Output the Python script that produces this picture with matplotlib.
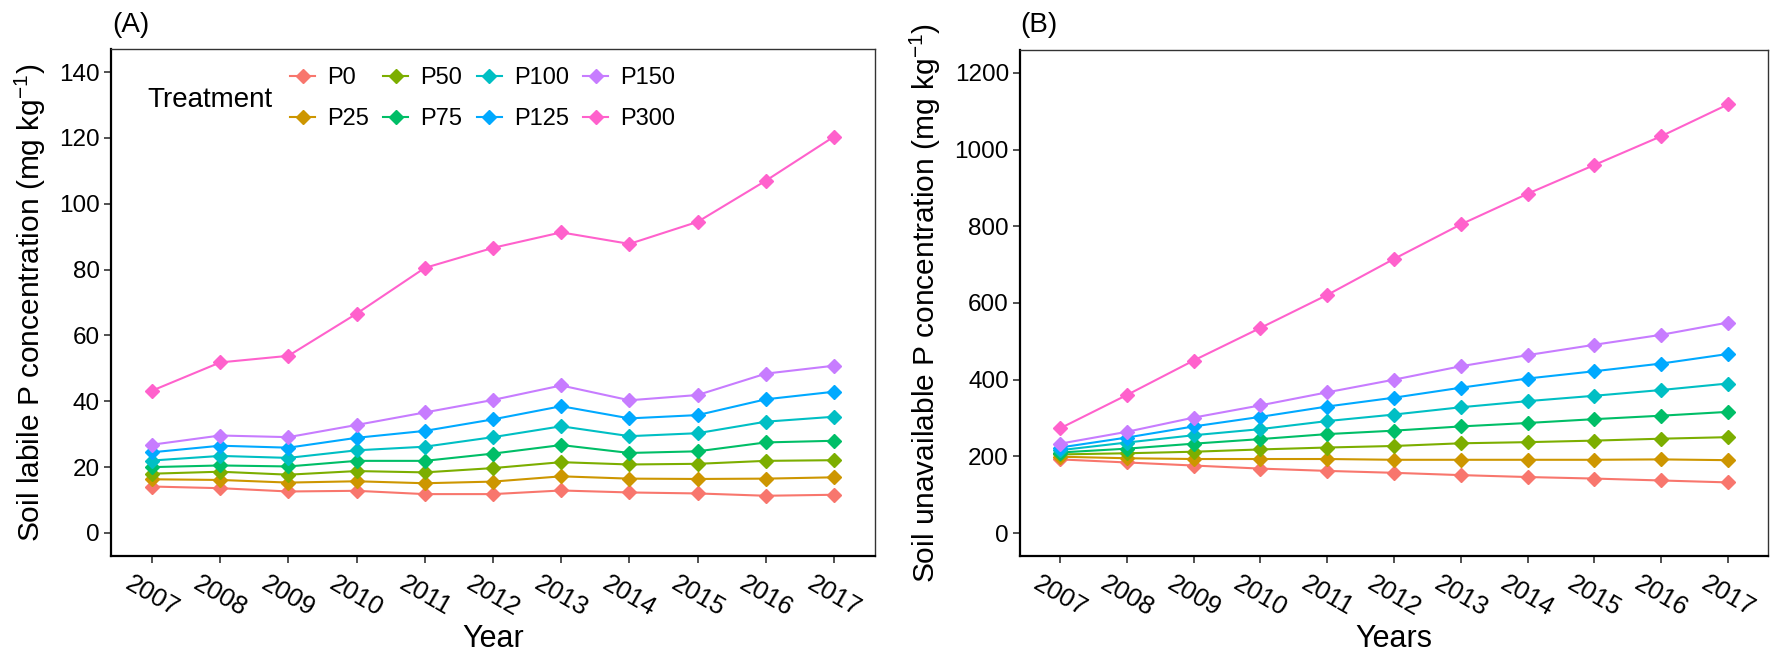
import matplotlib
matplotlib.use("Agg")
import matplotlib.pyplot as plt

years = [2007, 2008, 2009, 2010, 2011, 2012, 2013, 2014, 2015, 2016, 2017]
treatments = ["P0", "P25", "P50", "P75", "P100", "P125", "P150", "P300"]
colors = ["#F8766D", "#CD9600", "#7CAE00", "#00BE67", "#00BFC4", "#00A9FF", "#C77CFF", "#FF61CC"]

# Panel A: soil labile P (mg/kg)
labile_P0 = [14.1, 13.6, 12.6, 12.8, 11.8, 11.8, 12.9, 12.3, 12.0, 11.3, 11.6]
labile_P25 = [16.3, 16.1, 15.3, 15.7, 15.1, 15.6, 17.2, 16.5, 16.4, 16.5, 16.9]
labile_P50 = [18.0, 18.6, 17.7, 18.8, 18.4, 19.7, 21.5, 20.8, 21.0, 21.9, 22.1]
labile_P75 = [20.0, 20.5, 20.2, 21.9, 21.9, 24.1, 26.7, 24.3, 24.8, 27.5, 28.0]
labile_P100 = [22.0, 23.4, 22.8, 25.1, 26.2, 29.1, 32.4, 29.4, 30.3, 33.8, 35.3]
labile_P125 = [24.5, 26.5, 25.9, 28.9, 31.0, 34.5, 38.5, 34.8, 35.8, 40.6, 42.9]
labile_P150 = [26.8, 29.6, 29.1, 32.8, 36.6, 40.4, 44.8, 40.3, 41.9, 48.4, 50.8]
labile_P300 = [43.2, 51.8, 53.8, 66.6, 80.5, 86.6, 91.3, 87.8, 94.5, 107.0, 120.4]

# Panel B: soil unavailable P (mg/kg)
unavail_P0 = [192, 184, 176, 168, 162, 157, 151, 146, 142, 137, 132]
unavail_P25 = [199, 195, 193, 193, 193, 191, 191, 191, 191, 192, 190]
unavail_P50 = [205, 208, 212, 218, 223, 227, 234, 237, 241, 246, 250]
unavail_P75 = [210, 220, 233, 245, 258, 267, 278, 287, 297, 306, 316]
unavail_P100 = [216, 236, 255, 271, 292, 309, 328, 344, 358, 373, 390]
unavail_P125 = [223, 249, 278, 303, 330, 353, 379, 403, 422, 442, 467]
unavail_P150 = [233, 264, 301, 333, 367, 400, 435, 464, 491, 517, 549]
unavail_P300 = [273, 360, 450, 535, 621, 715, 805, 885, 960, 1035, 1118]

labile = [labile_P0, labile_P25, labile_P50, labile_P75, labile_P100, labile_P125, labile_P150, labile_P300]
unavail = [unavail_P0, unavail_P25, unavail_P50, unavail_P75, unavail_P100, unavail_P125, unavail_P150, unavail_P300]

plt.rcParams["font.family"] = ["Liberation Sans", "DejaVu Sans"]
plt.rcParams["mathtext.fontset"] = "custom"
plt.rcParams["mathtext.rm"] = "Liberation Sans"
plt.rcParams["mathtext.it"] = "Liberation Sans"
plt.rcParams["mathtext.bf"] = "Liberation Sans"

W, H = 1772, 652
fig = plt.figure(figsize=(W / 100, H / 100), dpi=100)

def px_axes(l, r, t, b):
    return fig.add_axes([l / W, 1 - b / H, (r - l) / W, (b - t) / H])

axA = px_axes(111, 875, 49, 556)
axB = px_axes(1020, 1768, 50, 556)

xpos = list(range(len(years)))

def style(ax, yticks, ylim):
    ax.set_xlim(-0.6, len(years) - 1 + 0.6)
    ax.set_ylim(*ylim)
    ax.set_yticks(yticks)
    ax.set_xticks(xpos)
    ax.set_xticklabels([str(y) for y in years], rotation=-30, ha="center", va="top")
    ax.tick_params(axis="both", length=5, width=1.2, color="#333333", direction="out")
    ax.tick_params(axis="x", labelsize=18.5, pad=6)
    ax.tick_params(axis="y", labelsize=17.5, pad=3)
    for s in ["left", "bottom"]:
        ax.spines[s].set_linewidth(1.6)
        ax.spines[s].set_color("black")
    for s in ["top", "right"]:
        ax.spines[s].set_linewidth(1.0)
        ax.spines[s].set_color("#333333")

handles = []
for vals, c, name in zip(labile, colors, treatments):
    h, = axA.plot(xpos, vals, color=c, lw=1.5, marker="D", ms=7, label=name)
    handles.append(h)
for vals, c in zip(unavail, colors):
    axB.plot(xpos, vals, color=c, lw=1.5, marker="D", ms=7)

style(axA, [0, 20, 40, 60, 80, 100, 120, 140], (-7, 147))
style(axB, [0, 200, 400, 600, 800, 1000, 1200], (-60, 1260))

axA.set_xlabel("Year", fontsize=22, labelpad=2)
axB.set_xlabel("Years", fontsize=22, labelpad=2)
axA.set_ylabel(r"Soil labile P concentration (mg kg$^{-1}$)", fontsize=21.5, labelpad=8)
axB.set_ylabel(r"Soil unavailable P concentration (mg kg$^{-1}$)", fontsize=21.5, labelpad=8)

fig.text(112 / W, 1 - 25 / H, "(A)", fontsize=20, ha="left", va="center")
fig.text(1020 / W, 1 - 25 / H, "(B)", fontsize=20, ha="left", va="center")

axA.text((147 - 111) / 764, (556 - 100) / 507, "Treatment", transform=axA.transAxes,
         fontsize=20, ha="left", va="center")
leg = axA.legend(handles=handles, ncol=4, frameon=False, fontsize=17,
                 loc="upper left", bbox_to_anchor=((290 - 111) / 764, (556 - 67) / 507),
                 borderaxespad=0, borderpad=0, handlelength=1.06, handletextpad=0.5,
                 columnspacing=0.62, labelspacing=0.8)

fig.savefig("out.png", dpi=100)
